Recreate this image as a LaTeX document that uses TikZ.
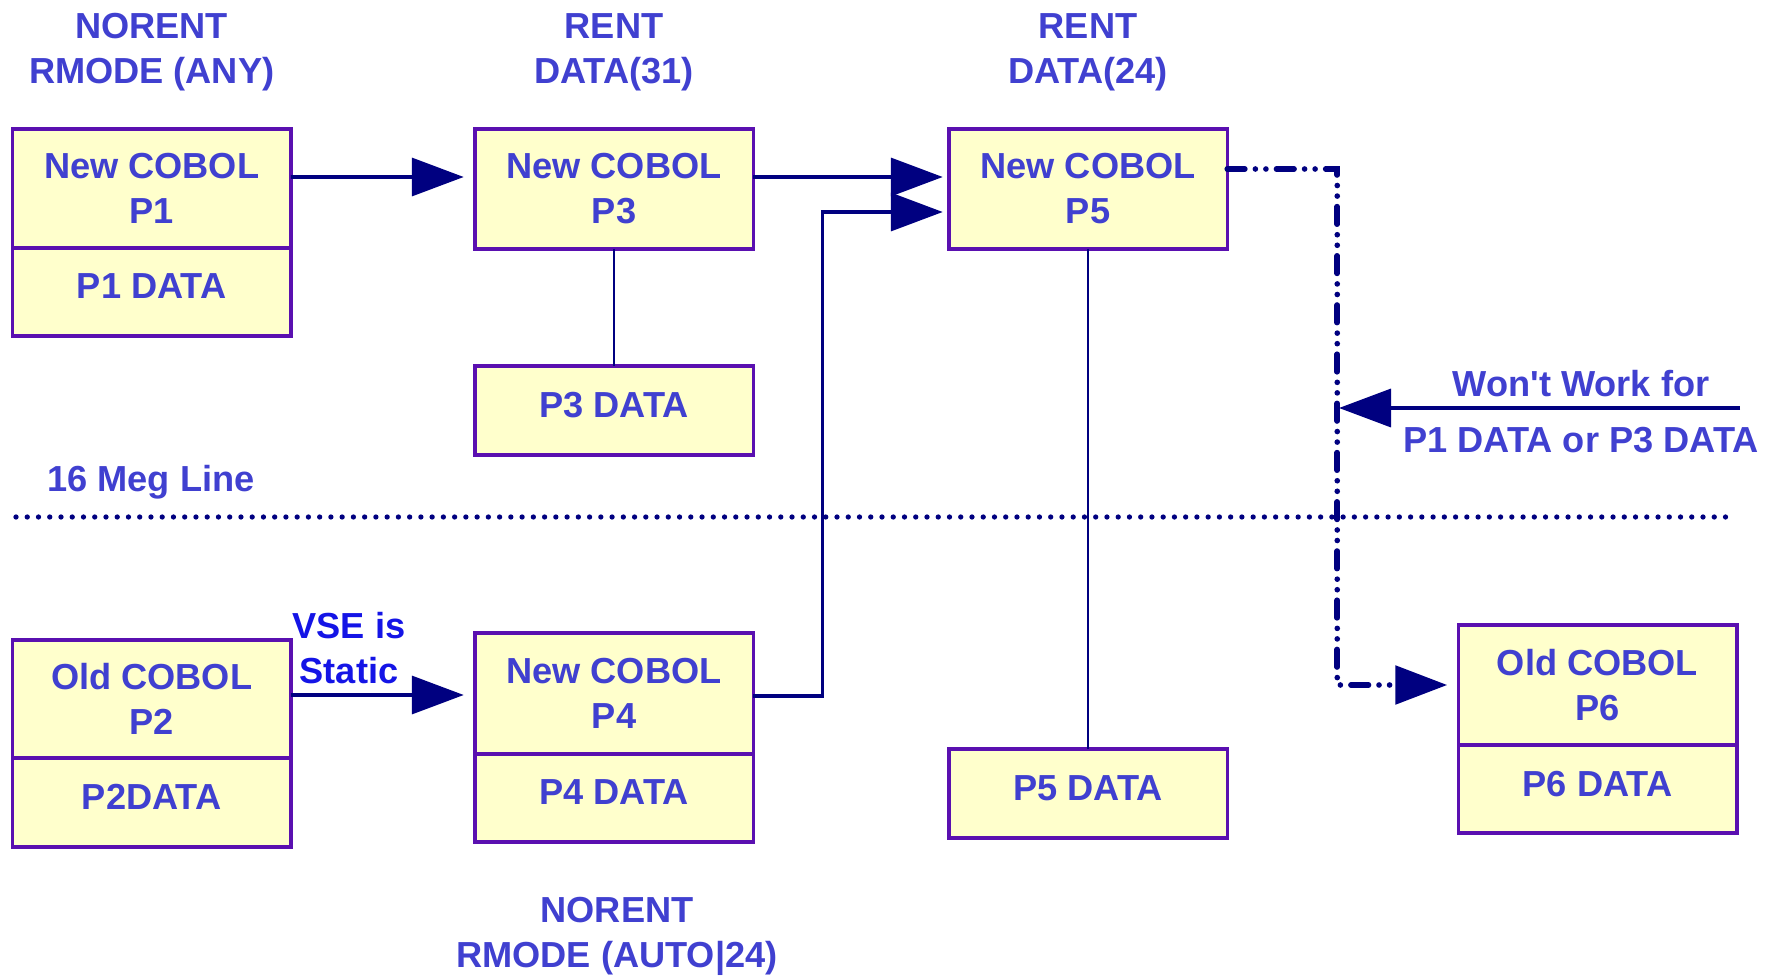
\documentclass[tikz,border=0pt]{standalone}
\usepackage{fontspec}
\setmainfont{Liberation Sans}
\usetikzlibrary{arrows.meta,positioning}
\definecolor{txtblue}{RGB}{64,64,208}
\definecolor{vseblue}{RGB}{20,20,230}
\definecolor{boxline}{RGB}{90,16,176}
\definecolor{boxfill}{RGB}{255,255,204}
\definecolor{navy}{RGB}{0,0,128}
\begin{document}
\begin{tikzpicture}[scale=1.0,
  every node/.style={font=\fontsize{10.3}{12.8}\selectfont\bfseries, text=txtblue, align=center},
  prog/.style={draw=boxline, fill=boxfill, line width=1pt, minimum width=2.785cm, inner sep=0pt, outer sep=0pt},
  datapart/.style={prog, text depth=1.1mm},
  arr/.style={-{Triangle[length=5.2mm,width=3.8mm]}, navy, line width=1pt},
  link/.style={navy, line width=0.8pt},
  ddot/.style={navy, line width=1.6pt, line cap=round, dash pattern=on 5pt off 3pt on 0pt off 3pt on 0pt off 3pt}]
  \useasboundingbox (0,0) rectangle (17.75,-9.76);

  % Column headings
  \node (t1) at (1.517,-0.525) {NORENT\\RMODE (ANY)};
  \node (t3) at (6.14,-0.525) {RENT\\DATA(31)};
  \node (t5) at (10.88,-0.525) {RENT\\DATA(24)};

  % Programs above the line
  \node[prog, minimum height=1.19cm] (p1) at (1.517,-1.885) {New COBOL\\P1};
  \node[datapart, minimum height=0.88cm, below=0pt of p1] (p1d) {P1 DATA};
  \node[prog, minimum height=1.20cm] (p3) at (6.14,-1.89) {New COBOL\\P3};
  \node[datapart, minimum height=0.89cm] (p3d) at (6.14,-4.105) {P3 DATA};
  \node[prog, minimum height=1.20cm] (p5) at (10.88,-1.89) {New COBOL\\P5};
  \node[datapart, minimum height=0.89cm] (p5d) at (10.88,-7.935) {P5 DATA};

  % 16 Meg line
  \node (meg) at (1.51,-4.82) {16 Meg Line};
  \coordinate (megl) at (0.16,-5.17);
  \coordinate (megr) at (17.32,-5.17);
  \draw[navy, line width=1.5pt, line cap=round, dash pattern=on 0pt off 3.2pt] (megl) -- (megr);

  % Programs below the line
  \node[prog, minimum height=1.18cm] (p2) at (1.517,-6.99) {Old COBOL\\P2};
  \node[datapart, minimum height=0.89cm, below=0pt of p2] (p2d) {P2DATA};
  \node[prog, minimum height=1.21cm] (p4) at (6.14,-6.935) {New COBOL\\P4};
  \node[datapart, minimum height=0.88cm, below=0pt of p4] (p4d) {P4 DATA};
  \node[prog, minimum height=1.20cm] (p6) at (15.975,-6.85) {Old COBOL\\P6};
  \node[datapart, minimum height=0.88cm, below=0pt of p6] (p6d) {P6 DATA};
  \node (t4) at (6.17,-9.365) {NORENT\\RMODE (AUTO|24)};

  % Calls
  \draw[arr, shorten >=1.1mm] ([yshift=1.15mm]p1.east) -- ([yshift=1.2mm]p3.west);
  \draw[arr, shorten >=0.6mm] ([yshift=1.2mm]p3.east) -- ([yshift=1.2mm]p5.west);
  \draw[arr, shorten >=0.6mm] ([yshift=-0.25mm]p4.east) -- ++(0.69,0) |- ([yshift=-2.3mm]p5.west);
  \draw[arr, shorten >=1.1mm] ([yshift=0.4mm]p2.east) -- ([yshift=0.4mm]p2.east -| p4.west);
  \node[text=vseblue] (vse) at (3.49,-6.485) {VSE is\\Static};
  \draw[link] (p3) -- (p3d);
  \draw[link] (p5) -- (p5d);

  % Call that fails
  \draw[ddot, -{Triangle[length=5.2mm,width=3.8mm]}, shorten >=1.1mm] ([yshift=2mm]p5.east) -- ++(1.10,0) |- (p6.west);
  \coordinate (wfrom) at (17.40,-4.08);
  \coordinate (wto) at (13.39,-4.08);
  \draw[arr] (wfrom) -- (wto);
  \node (w1) at (15.81,-3.84) {Won\textquotesingle t Work for};
  \node (w2) at (15.81,-4.40) {P1 DATA or P3 DATA};
\end{tikzpicture}
\end{document}
